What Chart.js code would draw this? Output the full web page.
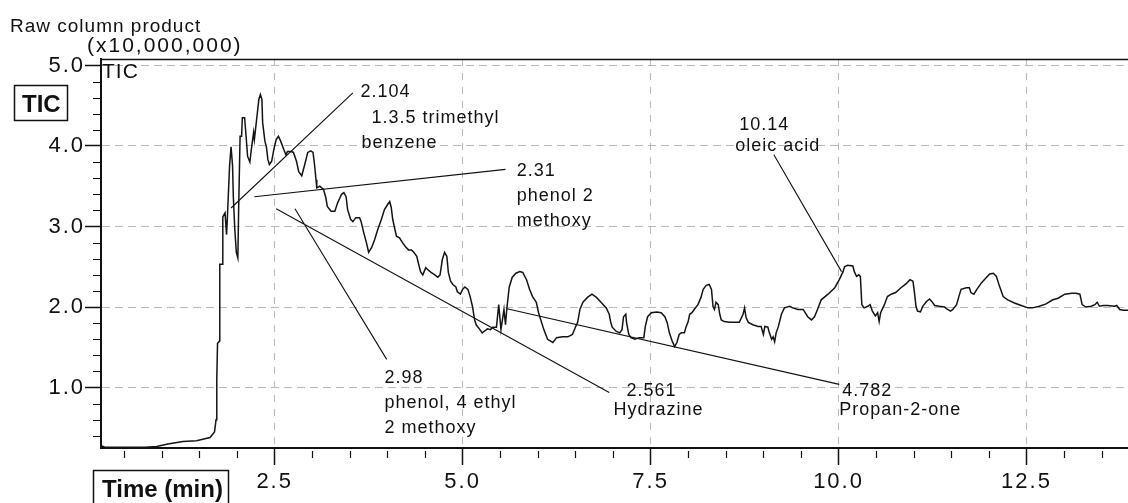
<!DOCTYPE html>
<html>
<head>
<meta charset="utf-8">
<script src="https://cdn.jsdelivr.net/npm/chart.js@4.4.1/dist/chart.umd.min.js"></script>
<style>
  html, body { margin: 0; padding: 0; background: #ffffff; }
  #tic { display: block; }
</style>
</head>
<body>
<canvas id="tic" width="1128" height="503"></canvas>
<script>
// Total ion chromatogram of the raw column product
const retentionTime = [
  0.19, 0.24, 0.33, 0.62, 0.78, 0.93, 1.08, 1.28, 1.46, 1.64, 1.70, 1.72, 1.73, 1.74, 1.77, 1.77,
  1.80, 1.81, 1.84, 1.86, 1.87, 1.90, 1.92, 1.94, 1.95, 1.97, 1.99, 2.01, 2.02, 2.04, 2.06, 2.07,
  2.10, 2.12, 2.14, 2.17, 2.19, 2.22, 2.23, 2.26, 2.29, 2.31, 2.33, 2.34, 2.37, 2.39, 2.41, 2.43,
  2.46, 2.49, 2.52, 2.55, 2.58, 2.62, 2.65, 2.67, 2.72, 2.75, 2.79, 2.82, 2.86, 2.90, 2.94, 2.98,
  3.01, 3.03, 3.05, 3.06, 3.10, 3.15, 3.18, 3.20, 3.25, 3.30, 3.34, 3.39, 3.42, 3.45, 3.47, 3.51,
  3.54, 3.58, 3.63, 3.65, 3.68, 3.72, 3.75, 3.79, 3.83, 3.87, 3.92, 3.96, 4.00, 4.03, 4.05, 4.07,
  4.10, 4.12, 4.16, 4.20, 4.24, 4.28, 4.32, 4.35, 4.39, 4.41, 4.44, 4.47, 4.51, 4.53, 4.58, 4.63,
  4.67, 4.70, 4.73, 4.76, 4.79, 4.81, 4.84, 4.87, 4.91, 4.93, 4.97, 5.00, 5.03, 5.07, 5.10, 5.13,
  5.16, 5.18, 5.23, 5.26, 5.29, 5.33, 5.37, 5.40, 5.45, 5.48, 5.51, 5.55, 5.57, 5.59, 5.62, 5.66,
  5.71, 5.76, 5.80, 5.85, 5.89, 5.93, 5.98, 6.01, 6.05, 6.08, 6.13, 6.20, 6.25, 6.33, 6.40, 6.46,
  6.50, 6.53, 6.56, 6.60, 6.66, 6.72, 6.78, 6.84, 6.91, 6.95, 6.97, 6.99, 7.04, 7.09, 7.12, 7.14,
  7.17, 7.18, 7.21, 7.24, 7.29, 7.35, 7.41, 7.43, 7.46, 7.51, 7.58, 7.64, 7.69, 7.72, 7.75, 7.79,
  7.82, 7.85, 7.88, 7.91, 7.95, 7.97, 8.00, 8.02, 8.05, 8.08, 8.13, 8.17, 8.20, 8.24, 8.28, 8.31,
  8.33, 8.35, 8.37, 8.40, 8.42, 8.44, 8.48, 8.55, 8.62, 8.68, 8.73, 8.75, 8.77, 8.80, 8.86, 8.93,
  8.97, 9.00, 9.02, 9.06, 9.08, 9.11, 9.13, 9.15, 9.17, 9.20, 9.24, 9.28, 9.35, 9.39, 9.46, 9.53,
  9.59, 9.64, 9.68, 9.72, 9.77, 9.86, 9.95, 10.01, 10.06, 10.08, 10.12, 10.19, 10.21, 10.24, 10.27, 10.29,
  10.31, 10.34, 10.39, 10.42, 10.45, 10.49, 10.52, 10.54, 10.56, 10.61, 10.65, 10.70, 10.76, 10.83, 10.90, 10.95,
  10.99, 11.01, 11.03, 11.05, 11.09, 11.12, 11.17, 11.21, 11.24, 11.28, 11.34, 11.41, 11.45, 11.49, 11.52, 11.57,
  11.60, 11.63, 11.70, 11.74, 11.76, 11.80, 11.84, 11.90, 11.96, 12.01, 12.06, 12.10, 12.14, 12.19, 12.25, 12.34,
  12.43, 12.52, 12.58, 12.67, 12.76, 12.85, 12.92, 13.01, 13.10, 13.16, 13.21, 13.24, 13.29, 13.36, 13.41, 13.44,
  13.47, 13.52, 13.58, 13.67, 13.70, 13.74, 13.79, 13.85
];

// Abundance in units of 10,000,000 counts
const ticIntensity = [
  0.28, 0.26, 0.26, 0.26, 0.26, 0.27, 0.30, 0.33, 0.34, 0.38, 0.45, 0.60, 1.10, 1.55, 1.58, 2.53,
  2.53, 3.12, 3.17, 2.90, 3.09, 3.75, 3.99, 3.75, 3.37, 2.96, 2.68, 2.61, 3.17, 4.12, 4.12, 4.35,
  4.35, 4.12, 3.87, 3.80, 3.96, 4.17, 4.08, 4.33, 4.58, 4.64, 4.58, 4.29, 4.06, 3.99, 3.83, 3.77,
  3.81, 3.96, 4.08, 4.12, 4.06, 3.96, 3.89, 3.93, 3.93, 3.92, 3.81, 3.68, 3.63, 3.77, 3.92, 3.94,
  3.92, 3.77, 3.58, 3.48, 3.50, 3.46, 3.36, 3.25, 3.19, 3.19, 3.30, 3.40, 3.42, 3.37, 3.21, 3.09,
  3.06, 3.11, 3.11, 3.06, 2.94, 2.80, 2.68, 2.74, 2.84, 2.96, 3.09, 3.21, 3.27, 3.31, 3.24, 3.09,
  2.96, 2.88, 2.86, 2.80, 2.75, 2.71, 2.71, 2.68, 2.63, 2.55, 2.44, 2.40, 2.49, 2.47, 2.43, 2.40,
  2.37, 2.40, 2.59, 2.68, 2.63, 2.43, 2.32, 2.28, 2.25, 2.19, 2.16, 2.22, 2.25, 2.22, 2.13, 2.01,
  1.84, 1.78, 1.72, 1.68, 1.70, 1.73, 1.72, 1.75, 1.75, 2.03, 1.72, 1.97, 1.78, 2.00, 2.25, 2.37,
  2.42, 2.44, 2.43, 2.34, 2.22, 2.13, 2.06, 1.93, 1.81, 1.72, 1.60, 1.56, 1.62, 1.63, 1.63, 1.66,
  1.75, 1.81, 1.97, 2.06, 2.12, 2.16, 2.12, 2.06, 1.99, 1.91, 1.81, 1.75, 1.70, 1.68, 1.72, 1.88,
  1.91, 1.81, 1.66, 1.62, 1.60, 1.62, 1.62, 1.76, 1.88, 1.93, 1.94, 1.93, 1.88, 1.81, 1.68, 1.57,
  1.51, 1.56, 1.66, 1.68, 1.68, 1.75, 1.82, 1.91, 1.93, 1.97, 2.03, 2.12, 2.22, 2.27, 2.28, 2.22,
  2.01, 1.97, 2.06, 2.03, 1.91, 1.84, 1.82, 1.81, 1.81, 1.81, 1.91, 1.99, 1.87, 1.81, 1.78, 1.76,
  1.76, 1.66, 1.76, 1.75, 1.68, 1.60, 1.63, 1.57, 1.68, 1.76, 1.91, 1.99, 2.01, 1.99, 1.97, 1.97,
  1.88, 1.84, 1.88, 1.97, 2.09, 2.16, 2.24, 2.34, 2.44, 2.50, 2.52, 2.51, 2.44, 2.38, 2.40, 2.38,
  2.03, 1.99, 2.01, 2.03, 1.95, 1.89, 1.93, 1.82, 1.93, 2.03, 2.13, 2.16, 2.18, 2.24, 2.29, 2.34,
  2.32, 2.18, 2.01, 1.95, 1.94, 2.01, 2.07, 2.10, 2.07, 2.02, 2.01, 2.00, 1.97, 1.95, 1.97, 2.03,
  2.13, 2.22, 2.24, 2.24, 2.18, 2.16, 2.22, 2.30, 2.36, 2.41, 2.42, 2.38, 2.26, 2.13, 2.09, 2.05,
  2.02, 1.99, 1.99, 2.01, 2.04, 2.09, 2.11, 2.16, 2.17, 2.17, 2.16, 2.03, 2.00, 2.01, 2.03, 2.06,
  2.01, 2.02, 2.02, 2.01, 2.02, 1.97, 1.96, 1.96
];

const timeTicks = [2.5, 5.0, 7.5, 10.0, 12.5];
const abundanceTicks = [1.0, 2.0, 3.0, 4.0, 5.0];

// Identified peaks: retention label, compound name lines,
// leader line start / end (time, abundance) and label anchor (time, abundance)
const peakLabels = ['2.104', '2.31', '2.98', '2.561', '4.782', '10.14'];
const peakNames = [
  [' 1.3.5 trimethyl', 'benzene'],
  ['phenol 2', 'methoxy'],
  ['phenol, 4 ethyl', '2 methoxy'],
  ['Hydrazine'],
  ['Propan-2-one'],
  ['oleic acid']
];
const leaderFrom = [[3.54, 4.66], [5.57, 3.71], [2.77, 3.22], [2.52, 3.22], [5.59, 1.98], [9.14, 3.89]];
const leaderTo   = [[1.92, 3.23], [2.23, 3.37], [3.99, 1.35], [6.95, 0.94], [10.01, 1.04], [10.04, 2.44]];
const labelAnchor = [[3.64, 4.61], [5.72, 3.63], [3.96, 1.06], [7.18, 0.89], [10.05, 0.89], [8.68, 4.20]];

// Line layout of each peak label block (pixel offsets from the anchor)
const labelLayout = [
  { dx: [0, 5, 1], dy: [0, 26, 51] },
  { dx: [0, 0, 0], dy: [0, 25, 50] },
  { dx: [0, 0, 0], dy: [0, 25, 50] },
  { dx: [0, -13], dy: [0, 19] },
  { dx: [0, -3], dy: [0, 19] },
  { dx: [0, -4], dy: [0, 21] }
];

const FONT = '"Liberation Sans", Arial, sans-serif';

const decorations = {
  id: 'decorations',
  beforeDraw(chart) {
    // wide spacing for the tick numerals drawn by the scales
    chart.ctx.letterSpacing = '2px';
  },
  afterDraw(chart) {
    const { ctx, chartArea: a, scales: { x, y } } = chart;
    ctx.save();
    ctx.strokeStyle = '#111';
    ctx.fillStyle = '#111';

    // frame line along the top of the plot
    ctx.lineWidth = 1.5;
    ctx.beginPath();
    ctx.moveTo(a.left, a.top + 0.5);
    ctx.lineTo(a.right, a.top + 0.5);
    ctx.stroke();

    // minor ticks
    ctx.lineWidth = 1.2;
    ctx.beginPath();
    for (let k = 2; k <= 25; k++) {
      const v = k / 5;
      if (k % 5 === 0) continue;
      const py = Math.round(y.getPixelForValue(v)) + 0.5;
      ctx.moveTo(a.left - 8, py);
      ctx.lineTo(a.left, py);
    }
    for (let k = 1; k <= 27; k++) {
      const v = k * 0.5;
      if (k % 5 === 0) continue;
      const px = Math.round(x.getPixelForValue(v)) + 0.5;
      ctx.moveTo(px, a.bottom + 3);
      ctx.lineTo(px, a.bottom + 10);
    }
    ctx.stroke();

    // leader lines from the peak labels
    ctx.lineWidth = 1.1;
    ctx.beginPath();
    for (let i = 0; i < leaderFrom.length; i++) {
      ctx.moveTo(x.getPixelForValue(leaderFrom[i][0]), y.getPixelForValue(leaderFrom[i][1]));
      ctx.lineTo(x.getPixelForValue(leaderTo[i][0]), y.getPixelForValue(leaderTo[i][1]));
    }
    ctx.stroke();

    // peak label text
    ctx.textBaseline = 'alphabetic';
    ctx.textAlign = 'left';
    ctx.font = '18px ' + FONT;
    ctx.letterSpacing = '1px';
    for (let i = 0; i < peakLabels.length; i++) {
      const ax = x.getPixelForValue(labelAnchor[i][0]);
      const ay = y.getPixelForValue(labelAnchor[i][1]);
      const lines = [peakLabels[i]].concat(peakNames[i]);
      const lay = labelLayout[i];
      lines.forEach((t, j) => ctx.fillText(t, ax + lay.dx[j], ay + lay.dy[j]));
    }

    // trace name inside the plot
    ctx.font = '21px ' + FONT;
    ctx.letterSpacing = '1px';
    ctx.fillText('TIC', a.left + 1, a.top + 19);

    // axis captions
    ctx.font = '19px ' + FONT;
    ctx.letterSpacing = '1px';
    ctx.fillText('Raw column product', 10, 32);
    ctx.font = '21px ' + FONT;
    ctx.letterSpacing = '2px';
    ctx.fillText('(x10,000,000)', 87, 52);

    // boxed labels
    ctx.letterSpacing = '0px';
    ctx.font = 'bold 24px ' + FONT;
    ctx.lineWidth = 1.5;
    ctx.strokeRect(14.5, 85.5, 53, 35);
    ctx.fillText('TIC', 22, 112);
    ctx.strokeRect(93.5, 470.5, 135, 40);
    ctx.fillText('Time (min)', 102, 497);

    ctx.restore();
  }
};

const points = retentionTime.map((t, i) => ({ x: t, y: ticIntensity[i] }));

new Chart(document.getElementById('tic'), {
  type: 'line',
  data: {
    datasets: [{
      label: 'TIC',
      data: points,
      borderColor: '#141414',
      borderWidth: 1.5,
      pointRadius: 0,
      tension: 0,
      fill: false
    }]
  },
  options: {
    responsive: false,
    animation: false,
    devicePixelRatio: 1,
    layout: { padding: { top: 59, right: 0, bottom: 0, left: 0 } },
    plugins: { legend: { display: false }, tooltip: { enabled: false } },
    scales: {
      x: {
        type: 'linear',
        bounds: 'data',
        min: 0.19,
        max: 13.85,
        afterFit: s => { s.height = 55; },
        afterBuildTicks: s => { s.ticks = timeTicks.map(v => ({ value: v })); },
        grid: {
          color: '#b9b9b9',
          lineWidth: 1,
          drawTicks: true,
          tickLength: 17,
          tickColor: '#111',
          tickWidth: 1.5
        },
        border: { display: true, color: '#111', width: 2, dash: [7, 7] },
        ticks: {
          color: '#111',
          font: { family: FONT, size: 22 },
          padding: 4,
          maxRotation: 0,
          autoSkip: false,
          callback: v => v.toFixed(1)
        }
      },
      y: {
        type: 'linear',
        bounds: 'data',
        min: 0.25,
        max: 5.08,
        afterFit: s => { s.width = 101; },
        afterBuildTicks: s => { s.ticks = abundanceTicks.map(v => ({ value: v })); },
        grid: {
          color: '#b9b9b9',
          lineWidth: 1,
          drawTicks: true,
          tickLength: 16,
          tickColor: '#111',
          tickWidth: 1.5
        },
        border: { display: true, color: '#111', width: 2, dash: [8, 5] },
        ticks: {
          color: '#111',
          font: { family: FONT, size: 22 },
          padding: 0,
          autoSkip: false,
          callback: v => v.toFixed(1)
        }
      }
    }
  },
  plugins: [decorations]
});
</script>
</body>
</html>
